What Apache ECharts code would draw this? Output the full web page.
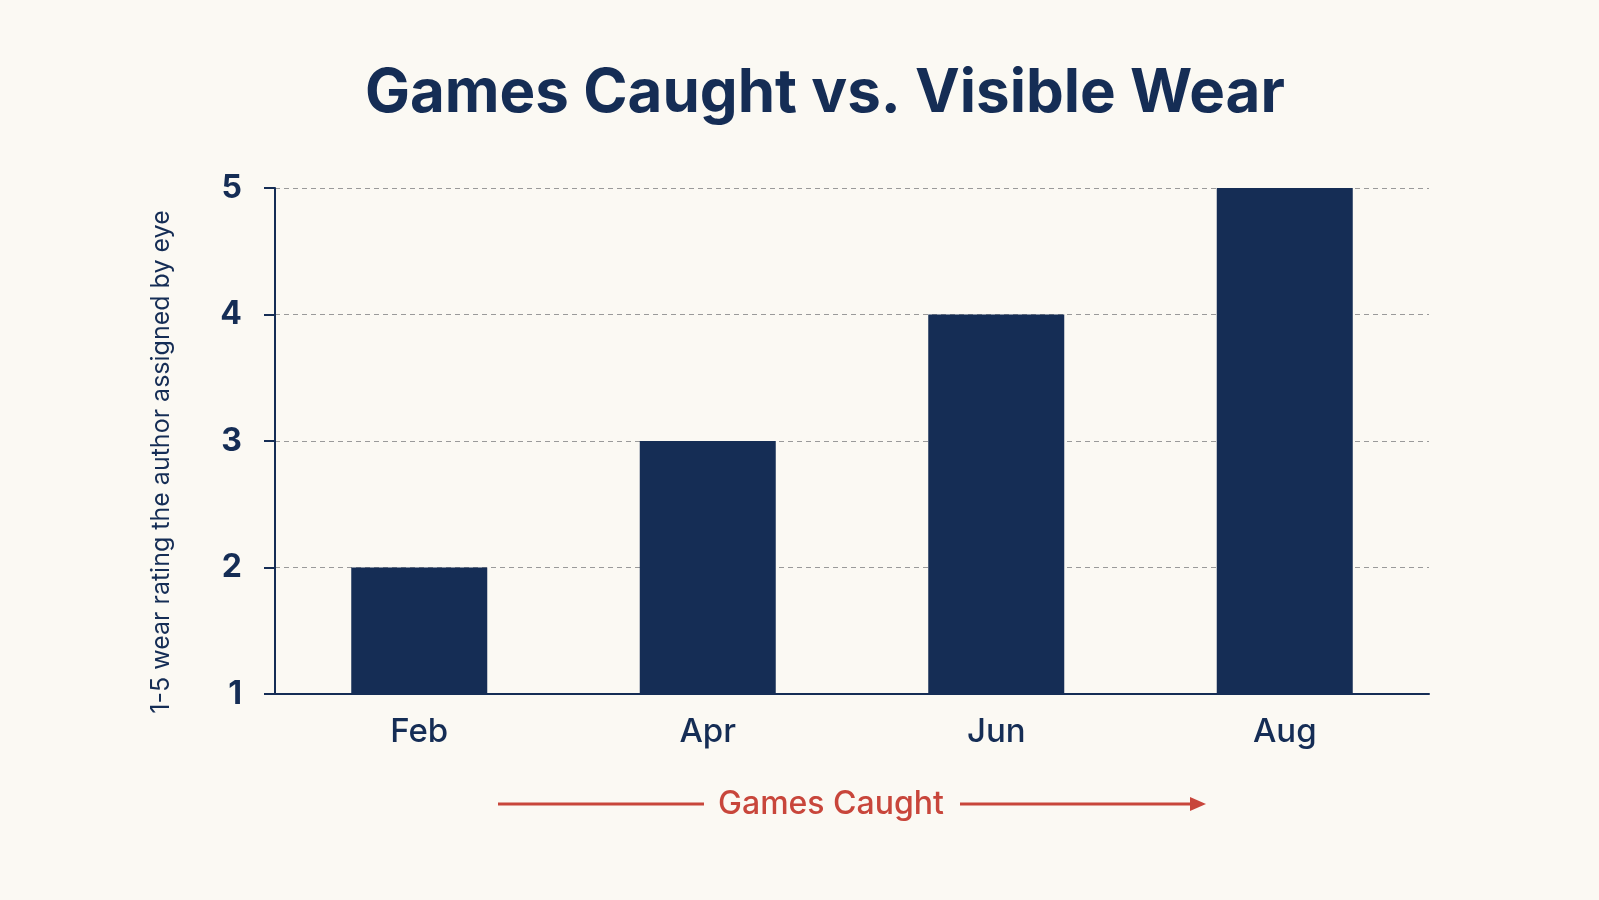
<!DOCTYPE html>
<html>
<head>
<meta charset="utf-8">
<script src="https://cdn.jsdelivr.net/npm/echarts@6/dist/echarts.min.js"></script>
<style>
html,body{margin:0;padding:0;background:#fbf9f3;}
#chart{width:1599px;height:900px;}
</style>
</head>
<body>
<div id="chart"></div>
<script>
const categories = ['Feb', 'Apr', 'Jun', 'Aug'];
const wearRating = [2, 3, 4, 5];
const yTicks = [1, 2, 3, 4, 5];

const navy = '#152d55';
const red = '#c8463b';
const chart = echarts.init(document.getElementById('chart'));
const gridLeft = 275, gridTop = 188, gridRight = 1599 - 1429, gridBottom = 900 - 694;

chart.setOption({
  backgroundColor: '#fbf9f3',
  title: {
    text: 'Games Caught vs. Visible Wear',
    left: 360,
    top: 59,
    textStyle: { fontFamily: 'Inter', fontWeight: 'bold', fontSize: 60, color: navy }
  },
  grid: { left: gridLeft, top: gridTop, right: gridRight, bottom: gridBottom },
  xAxis: {
    type: 'category',
    data: categories,
    axisLine: { lineStyle: { color: navy, width: 2 } },
    axisTick: { show: false },
    axisLabel: { color: navy, fontFamily: 'Inter', fontWeight: 500, fontSize: 33, margin: 22 }
  },
  yAxis: {
    type: 'value',
    min: yTicks[0],
    max: yTicks[yTicks.length - 1],
    interval: 1,
    axisLine: { show: true, lineStyle: { color: navy, width: 2 } },
    axisTick: { show: true, length: 11, lineStyle: { color: navy, width: 2 } },
    axisLabel: { color: navy, fontFamily: 'Inter', fontWeight: 'bold', fontSize: 32, margin: 33 },
    splitLine: { show: true, lineStyle: { color: '#9a9a9a', type: [5, 4], width: 1 } }
  },
  series: [{
    type: 'bar',
    data: wearRating,
    barWidth: 136,
    itemStyle: { color: navy }
  }],
  graphic: [
    {
      type: 'text', x: 161, y: 462, rotation: Math.PI / 2,
      style: { text: '1-5 wear rating the author assigned by eye', fill: navy, font: '25px Inter', align: 'center', verticalAlign: 'middle' }
    },
    {
      type: 'text', x: 831, y: 804,
      style: { text: 'Games Caught', fill: red, font: '500 32px Inter', align: 'center', verticalAlign: 'middle' }
    },
    { type: 'line', shape: { x1: 498, y1: 804, x2: 704, y2: 804 }, style: { stroke: red, lineWidth: 3 } },
    { type: 'line', shape: { x1: 960, y1: 804, x2: 1200, y2: 804 }, style: { stroke: red, lineWidth: 3 } },
    { type: 'polygon', shape: { points: [[1190, 797], [1206, 804], [1190, 811]] }, style: { fill: red } }
  ]
});
</script>
</body>
</html>
